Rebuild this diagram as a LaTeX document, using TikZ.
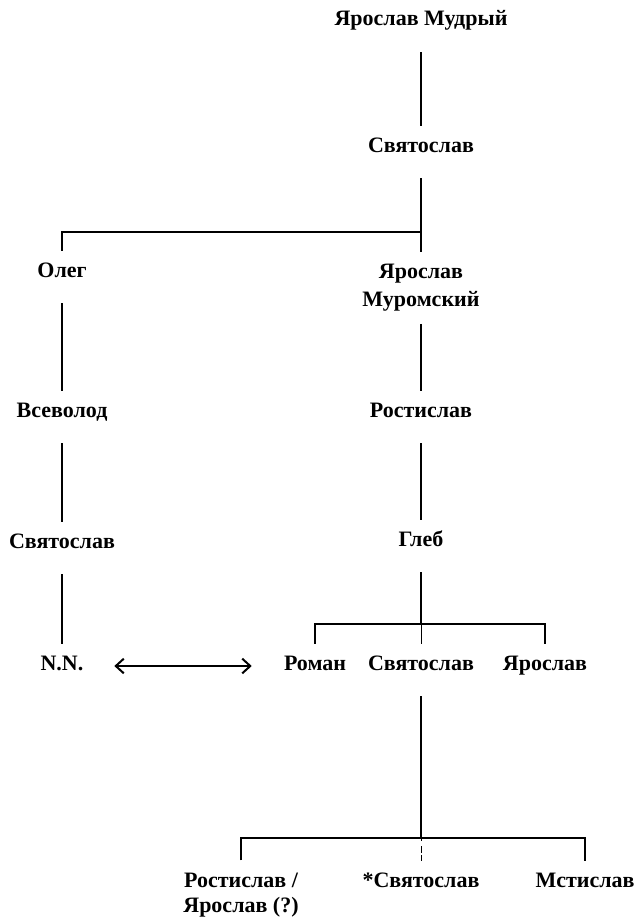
\documentclass[tikz,border=0pt]{standalone}
\usepackage{fontspec}
\setmainfont{Liberation Serif}
\usetikzlibrary{arrows.meta}

\begin{document}
\begin{tikzpicture}[x=0.75pt,y=-0.75pt,
  nm/.style={font=\bfseries\fontsize{16.5}{19}\selectfont,inner xsep=2pt,inner ysep=9pt,text height=10.5pt,text depth=4.5pt},
  nm2/.style={font=\bfseries\fontsize{16.5}{19}\selectfont,inner xsep=2pt,inner ysep=9pt,align=center},
  ln/.style={line width=1.5pt}]
\useasboundingbox (0,0) rectangle (637,920);
% names
\node[nm] (ym) at (421,22) {Ярослав Мудрый};
\node[nm] (sv1) at (421,148) {Святослав};
\node[nm] (oleg) at (62,273) {Олег};
\node[nm2] (yarm) at (421,288) {Ярослав\\[2pt]Муромский};
\node[nm] (vsev) at (62,413) {Всеволод};
\node[nm] (rost1) at (421,413) {Ростислав};
\node[nm] (sv2) at (62,544) {Святослав};
\node[nm] (gleb) at (421,542) {Глеб};
\node[nm] (nn) at (62,666) {N.N.};
\node[nm] (roman) at (315,666) {Роман};
\node[nm] (sv3) at (421,666) {Святослав};
\node[nm] (yar) at (545,666) {Ярослав};
\node[nm2] (rost2) at (241,895) {Ростислав /\\Ярослав (?)};
\node[nm] (sv4) at (421,883) {*Святослав};
\node[nm] (mst) at (585,883) {Мстислав};
\coordinate (j1) at (421,232);
\coordinate (j2) at (421,624);
\coordinate (j3) at (421,838);
% lines
\draw[ln,shorten <=6pt] (ym) -- (sv1);
\draw[ln,shorten <=6pt] (sv1) -- (yarm);
\draw[ln] (j1) -| (oleg);
\draw[ln,shorten <=6pt] (oleg) -- (vsev);
\draw[ln,shorten <=6pt] (vsev) -- (sv2);
\draw[ln,shorten <=6pt] (sv2) -- (nn);
\draw[ln] (yarm) -- (rost1);
\draw[ln,shorten <=6pt] (rost1) -- (gleb);
\draw[ln,shorten <=6pt] (gleb) -- (j2);
\draw[ln] (roman) |- (j2) -| (yar);
\draw[thin] (j2) -- (sv3);
\draw[ln,shorten <=6pt] (sv3) -- (j3);
\draw[ln] (rost2) |- (j3) -| (mst);
\draw[thin,dash pattern=on 2pt off 4pt on 5pt] (j3) -- (sv4);
\draw[ln,{Straight Barb[length=6pt,width=11pt]}-{Straight Barb[length=6pt,width=11pt]},shorten <=21pt,shorten >=22pt] (nn) -- (roman);
\end{tikzpicture}
\end{document}
